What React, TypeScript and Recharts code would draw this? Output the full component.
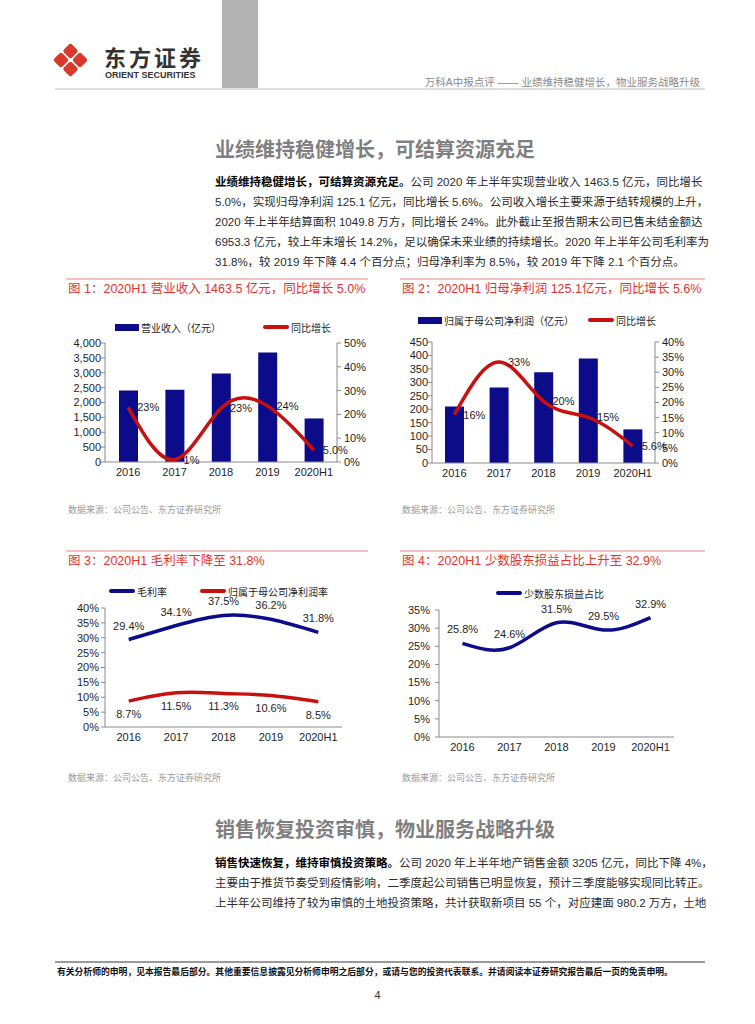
import React from 'react'
import {
  ComposedChart,
  LineChart,
  Bar,
  Line,
  XAxis,
  YAxis,
  Legend,
  LabelList,
} from 'recharts'

// chart data
const years = ['2016', '2017', '2018', '2019', '2020H1']

const revenue = [2404.8, 2429.0, 2976.8, 3678.9, 1463.5]
const revenueYoy = [22.98, 0.99, 22.56, 23.59, 5.0]
const revenueYoyLabels = ['23%', '1%', '23%', '24%', '5.0%']

const netProfit = [210.2, 280.5, 337.7, 388.7, 125.1]
const netProfitYoy = [16.0, 33.4, 20.4, 15.1, 5.6]
const netProfitYoyLabels = ['16%', '33%', '20%', '15%', '5.6%']

const grossMargin = [29.4, 34.1, 37.5, 36.2, 31.8]
const netMargin = [8.7, 11.5, 11.3, 10.6, 8.5]

const minorityShare = [25.8, 24.6, 31.5, 29.5, 32.9]

const revenueTicks = [0, 500, 1000, 1500, 2000, 2500, 3000, 3500, 4000]
const revenuePctTicks = [0, 10, 20, 30, 40, 50]
const profitTicks = [0, 50, 100, 150, 200, 250, 300, 350, 400, 450]
const profitPctTicks = [0, 5, 10, 15, 20, 25, 30, 35, 40]
const marginTicks = [0, 5, 10, 15, 20, 25, 30, 35, 40]
const minorityTicks = [0, 5, 10, 15, 20, 25, 30, 35]

const revenueData = years.map((year, i) => ({
  year,
  value: revenue[i],
  yoy: revenueYoy[i],
  yoyLabel: revenueYoyLabels[i],
}))
const profitData = years.map((year, i) => ({
  year,
  value: netProfit[i],
  yoy: netProfitYoy[i],
  yoyLabel: netProfitYoyLabels[i],
}))
const marginData = years.map((year, i) => ({
  year,
  gross: grossMargin[i],
  net: netMargin[i],
}))
const minorityData = years.map((year, i) => ({ year, share: minorityShare[i] }))

const FONT = '"Liberation Sans", Arial, "Noto Sans CJK SC", sans-serif'
const NAVY = '#0c0c8a'
const RED = '#c8100f'
const AXIS = '#8a8a8a'
const TXT = '#1e1e1e'
const TITLE_RED = '#e2332b'

const tick = { fontSize: 11, fill: TXT }
const pct = (v: number) => `${v}%`

const para1 = [
  { b: '业绩维持稳健增长，可结算资源充足。', t: '公司 2020 年上半年实现营业收入 1463.5 亿元，同比增长' },
  { b: '', t: '5.0%，实现归母净利润 125.1 亿元，同比增长 5.6%。公司收入增长主要来源于结转规模的上升，' },
  { b: '', t: '2020 年上半年结算面积 1049.8 万方，同比增长 24%。此外截止至报告期末公司已售未结金额达' },
  { b: '', t: '6953.3 亿元，较上年末增长 14.2%，足以确保未来业绩的持续增长。2020 年上半年公司毛利率为' },
  { b: '', t: '31.8%，较 2019 年下降 4.4 个百分点；归母净利率为 8.5%，较 2019 年下降 2.1 个百分点。' },
]
const para2 = [
  { b: '销售快速恢复，维持审慎投资策略。', t: '公司 2020 年上半年地产销售金额 3205 亿元，同比下降 4%，' },
  { b: '', t: '主要由于推货节奏受到疫情影响，二季度起公司销售已明显恢复，预计三季度能够实现同比转正。' },
  { b: '', t: '上半年公司维持了较为审慎的土地投资策略，共计获取新项目 55 个，对应建面 980.2 万方，土地' },
]

// legend items are placed by series name, so payload order does not matter
const makeLegend = (xs: Record<string, number>) => (props: any) => {
  const payload = props.payload || []
  return (
    <div style={{ position: 'relative', height: 14, fontFamily: FONT }}>
      {payload.map((e: any, i: number) => (
        <div
          key={i}
          style={{
            position: 'absolute',
            left: xs[e.value] ?? 0,
            top: 0,
            height: 14,
            display: 'flex',
            alignItems: 'center',
            whiteSpace: 'nowrap',
            fontSize: 10,
            color: TXT,
          }}
        >
          {e.type === 'rect' ? (
            <span style={{ width: 24, height: 7, background: e.color, marginRight: 2 }} />
          ) : (
            <span
              style={{ width: 26, height: 3.5, borderRadius: 2, background: e.color, marginRight: 2 }}
            />
          )}
          {e.value}
        </div>
      ))}
    </div>
  )
}

const Para = ({ lines, top, lastLeft }: { lines: { b: string; t: string }[]; top: number; lastLeft: boolean }) => (
  <>
    {lines.map((l, i) => (
      <div
        key={i}
        style={{
          position: 'absolute',
          left: 215,
          top: top + i * 20 - 10,
          width: 486,
          height: 20,
          lineHeight: '20px',
          fontSize: 11.5,
          color: '#2a2a2a',
          textAlign: 'justify',
          textAlignLast: lastLeft && i === lines.length - 1 ? 'left' : 'justify',
          whiteSpace: 'nowrap',
        }}
      >
        {l.b && <span style={{ fontWeight: 700, color: '#000' }}>{l.b}</span>}
        {l.t}
      </div>
    ))}
  </>
)

const ChartTitle = ({ x, y, w, text }: { x: number; y: number; w: number; text: string }) => (
  <>
    <div style={{ position: 'absolute', left: x - 2, top: y - 11, width: w, height: 1.5, background: '#f1c2bf' }} />
    <div
      style={{
        position: 'absolute',
        left: x,
        top: y - 9,
        lineHeight: '18px',
        fontSize: 12.5,
        color: TITLE_RED,
        whiteSpace: 'nowrap',
      }}
    >
      {text}
    </div>
  </>
)

const Source = ({ x, y }: { x: number; y: number }) => (
  <div
    style={{
      position: 'absolute',
      left: x,
      top: y - 7,
      lineHeight: '14px',
      fontSize: 9,
      color: '#9a9a9a',
      whiteSpace: 'nowrap',
    }}
  >
    数据来源：公司公告、东方证券研究所
  </div>
)

const Logo = () => (
  <svg style={{ position: 'absolute', left: 40, top: 30 }} width={60} height={60}>
    {[
      [30.5, 21],
      [30.5, 39],
      [21, 30],
      [40, 30],
    ].map(([cx, cy], i) => (
      <rect
        key={i}
        x={cx - 5.8}
        y={cy - 5.8}
        width={11.6}
        height={11.6}
        rx={2.6}
        fill="#d8392d"
        transform={`rotate(45 ${cx} ${cy})`}
      />
    ))}
  </svg>
)

export default function App() {
  return (
    <div
      style={{
        position: 'absolute',
        left: 0,
        top: 0,
        width: 755,
        height: 1024,
        background: '#fff',
        overflow: 'hidden',
        fontFamily: FONT,
      }}
    >
      {/* header */}
      <Logo />
      <div
        style={{
          position: 'absolute',
          left: 104,
          top: 41,
          fontSize: 22,
          lineHeight: '30px',
          fontWeight: 700,
          color: '#333',
          letterSpacing: 3,
          whiteSpace: 'nowrap',
          fontFamily: '"Noto Sans CJK SC", sans-serif',
        }}
      >
        东方证券
      </div>
      <div
        style={{
          position: 'absolute',
          left: 105,
          top: 70,
          fontSize: 9,
          lineHeight: '10px',
          fontWeight: 700,
          color: '#333',
          whiteSpace: 'nowrap',
        }}
      >
        ORIENT SECURITIES
      </div>
      <div style={{ position: 'absolute', left: 222, top: 0, width: 36, height: 88, background: '#b3b3b3' }} />
      <div
        style={{
          position: 'absolute',
          right: 55,
          top: 75,
          fontSize: 10.5,
          lineHeight: '14px',
          color: '#8a8a8a',
          whiteSpace: 'nowrap',
        }}
      >
        万科A中报点评 —— 业绩维持稳健增长，物业服务战略升级
      </div>
      <div style={{ position: 'absolute', left: 55, top: 88, width: 650, height: 2, background: '#dedede' }} />

      {/* section 1 */}
      <div
        style={{
          position: 'absolute',
          left: 215,
          top: 137,
          fontSize: 20,
          lineHeight: '26px',
          fontWeight: 700,
          color: '#7f7f7f',
          whiteSpace: 'nowrap',
        }}
      >
        业绩维持稳健增长，可结算资源充足
      </div>
      <Para lines={para1} top={182} lastLeft />

      {/* figure 1 */}
      <ChartTitle x={68} y={289} w={302} text="图 1：2020H1 营业收入 1463.5 亿元，同比增长 5.0%" />
      <div style={{ position: 'absolute', left: 50, top: 315 }}>
        <ComposedChart width={330} height={180} data={revenueData} margin={{ top: 28, right: 8, left: 0, bottom: 8 }}>
          <XAxis dataKey="year" height={25} axisLine={{ stroke: AXIS }} tickLine={false} tick={tick} tickMargin={0} />
          <YAxis
            yAxisId="l"
            width={55}
            domain={[0, 4000]}
            ticks={revenueTicks}
            interval={0}
            tickFormatter={(v: number) => v.toLocaleString('en-US')}
            axisLine={{ stroke: AXIS }}
            tickLine={{ stroke: AXIS }}
            tickSize={4}
            tickMargin={0}
            tick={tick}
          />
          <YAxis
            yAxisId="r"
            orientation="right"
            width={35}
            domain={[0, 50]}
            ticks={revenuePctTicks}
            interval={0}
            tickFormatter={pct}
            axisLine={{ stroke: AXIS }}
            tickLine={{ stroke: AXIS }}
            tickSize={4}
            tickMargin={3}
            tick={tick}
          />
          <Legend
            verticalAlign="middle"
            layout="horizontal"
            wrapperStyle={{ top: 5, left: 0, width: 330 }}
            content={makeLegend({ '营业收入（亿元）': 65, '同比增长': 213 })}
          />
          <Bar
            yAxisId="l"
            dataKey="value"
            name="营业收入（亿元）"
            legendType="rect"
            fill={NAVY}
            barSize={19}
            isAnimationActive={false}
          />
          <Line
            yAxisId="r"
            type="natural"
            dataKey="yoy"
            name="同比增长"
            legendType="line"
            stroke={RED}
            strokeWidth={3.5}
            dot={false}
            isAnimationActive={false}
          >
            <LabelList dataKey="yoyLabel" position="right" offset={9} fontSize={11} fill={TXT} />
          </Line>
        </ComposedChart>
      </div>
      <Source x={68} y={510} />

      {/* figure 2 */}
      <ChartTitle x={402} y={289} w={305} text="图 2：2020H1 归母净利润 125.1亿元，同比增长 5.6%" />
      <div style={{ position: 'absolute', left: 395, top: 310 }}>
        <ComposedChart width={310} height={185} data={profitData} margin={{ top: 32, right: 12, left: 0, bottom: 8 }}>
          <XAxis dataKey="year" height={24} axisLine={{ stroke: AXIS }} tickLine={false} tick={tick} tickMargin={0} />
          <YAxis
            yAxisId="l"
            width={37}
            domain={[0, 450]}
            ticks={profitTicks}
            interval={0}
            axisLine={{ stroke: AXIS }}
            tickLine={{ stroke: AXIS }}
            tickSize={4}
            tickMargin={0}
            tick={tick}
          />
          <YAxis
            yAxisId="r"
            orientation="right"
            width={38}
            domain={[0, 40]}
            ticks={profitPctTicks}
            interval={0}
            tickFormatter={pct}
            axisLine={{ stroke: AXIS }}
            tickLine={{ stroke: AXIS }}
            tickSize={4}
            tickMargin={3}
            tick={tick}
          />
          <Legend
            verticalAlign="middle"
            layout="horizontal"
            wrapperStyle={{ top: 3, left: 0, width: 310 }}
            content={makeLegend({ '归属于母公司净利润（亿元）': 23, '同比增长': 193 })}
          />
          <Bar
            yAxisId="l"
            dataKey="value"
            name="归属于母公司净利润（亿元）"
            legendType="rect"
            fill={NAVY}
            barSize={19}
            isAnimationActive={false}
          />
          <Line
            yAxisId="r"
            type="natural"
            dataKey="yoy"
            name="同比增长"
            legendType="line"
            stroke={RED}
            strokeWidth={3.5}
            dot={false}
            isAnimationActive={false}
          >
            <LabelList dataKey="yoyLabel" position="right" offset={9} fontSize={11} fill={TXT} />
          </Line>
        </ComposedChart>
      </div>
      <Source x={402} y={510} />

      {/* figure 3 */}
      <ChartTitle x={68} y={561} w={302} text="图 3：2020H1 毛利率下降至 31.8%" />
      <div style={{ position: 'absolute', left: 57, top: 575 }}>
        <LineChart width={300} height={175} data={marginData} margin={{ top: 33, right: 15, left: 0, bottom: 3 }}>
          <XAxis
            dataKey="year"
            height={20}
            padding={{ left: 23.7, right: 23.7 }}
            axisLine={{ stroke: AXIS }}
            tickLine={false}
            tick={tick}
            tickMargin={0}
          />
          <YAxis
            width={48}
            domain={[0, 40]}
            ticks={marginTicks}
            interval={0}
            tickFormatter={pct}
            axisLine={{ stroke: AXIS }}
            tickLine={{ stroke: AXIS }}
            tickSize={4}
            tickMargin={2}
            tick={tick}
          />
          <Legend
            verticalAlign="middle"
            layout="horizontal"
            wrapperStyle={{ top: 9, left: 0, width: 300 }}
            content={makeLegend({ '毛利率': 52, '归属于母公司净利润率': 143 })}
          />
          <Line
            type="natural"
            dataKey="gross"
            name="毛利率"
            legendType="line"
            stroke={NAVY}
            strokeWidth={3.5}
            dot={false}
            isAnimationActive={false}
          >
            <LabelList dataKey="gross" position="top" offset={10} formatter={(v: any) => `${v}%`} fontSize={11} fill={TXT} />
          </Line>
          <Line
            type="natural"
            dataKey="net"
            name="归属于母公司净利润率"
            legendType="line"
            stroke={RED}
            strokeWidth={3.5}
            dot={false}
            isAnimationActive={false}
          >
            <LabelList dataKey="net" position="bottom" offset={9} formatter={(v: any) => `${v}%`} fontSize={11} fill={TXT} />
          </Line>
        </LineChart>
      </div>
      <Source x={68} y={778} />

      {/* figure 4 */}
      <ChartTitle x={402} y={561} w={305} text="图 4：2020H1 少数股东损益占比上升至 32.9%" />
      <div style={{ position: 'absolute', left: 395, top: 575 }}>
        <LineChart width={300} height={185} data={minorityData} margin={{ top: 35, right: 21, left: 0, bottom: 0 }}>
          <XAxis
            dataKey="year"
            height={23}
            padding={{ left: 23.5, right: 23.5 }}
            axisLine={{ stroke: AXIS }}
            tickLine={false}
            tick={tick}
            tickMargin={0}
          />
          <YAxis
            width={44}
            domain={[0, 35]}
            ticks={minorityTicks}
            interval={0}
            tickFormatter={pct}
            axisLine={{ stroke: AXIS }}
            tickLine={{ stroke: AXIS }}
            tickSize={4}
            tickMargin={5}
            tick={tick}
          />
          <Legend
            verticalAlign="middle"
            layout="horizontal"
            wrapperStyle={{ top: 11, left: 0, width: 300 }}
            content={makeLegend({ '少数股东损益占比': 101 })}
          />
          <Line
            type="natural"
            dataKey="share"
            name="少数股东损益占比"
            legendType="line"
            stroke={NAVY}
            strokeWidth={3.5}
            dot={false}
            isAnimationActive={false}
          >
            <LabelList dataKey="share" position="top" offset={10} formatter={(v: any) => `${v}%`} fontSize={11} fill={TXT} />
          </Line>
        </LineChart>
      </div>
      <Source x={402} y={778} />

      {/* section 2 */}
      <div
        style={{
          position: 'absolute',
          left: 215,
          top: 817,
          fontSize: 20,
          lineHeight: '26px',
          fontWeight: 700,
          color: '#7f7f7f',
          whiteSpace: 'nowrap',
        }}
      >
        销售恢复投资审慎，物业服务战略升级
      </div>
      <Para lines={para2} top={863} lastLeft={false} />

      {/* footer */}
      <div style={{ position: 'absolute', left: 55, top: 961, width: 650, height: 1.5, background: '#9a9a9a' }} />
      <div
        style={{
          position: 'absolute',
          left: 57,
          top: 966,
          fontSize: 8.8,
          lineHeight: '12px',
          fontWeight: 700,
          color: '#111',
          whiteSpace: 'nowrap',
        }}
      >
        有关分析师的申明，见本报告最后部分。其他重要信息披露见分析师申明之后部分，或请与您的投资代表联系。并请阅读本证券研究报告最后一页的免责申明。
      </div>
      <div
        style={{
          position: 'absolute',
          left: 0,
          width: 755,
          top: 988,
          textAlign: 'center',
          fontSize: 11,
          lineHeight: '14px',
          color: '#333',
        }}
      >
        4
      </div>
    </div>
  )
}
